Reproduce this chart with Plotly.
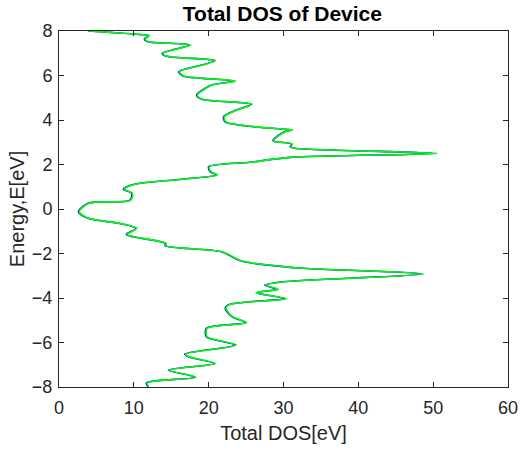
import plotly.graph_objects as go

# Energy grid (eV) and total density of states
energy = [8.0, 7.82, 7.79, 7.63, 7.52, 7.37, 7.0, 6.88, 6.67, 6.47, 6.17, 5.98,
          5.75, 5.57, 5.12, 4.93, 4.71, 4.45, 4.15, 3.92, 3.58, 3.55, 3.45, 3.07,
          2.92, 2.80, 2.73, 2.50, 2.32, 2.10, 1.90, 1.68, 1.53, 1.12, 0.89, 0.71,
          0.40, 0.26, -0.12, -0.42, -0.67, -0.87, -1.14, -1.25, -1.54, -1.65,
          -1.92, -2.34, -2.64, -2.92, -3.27, -3.42, -3.61, -3.76, -4.03, -4.17,
          -4.31, -4.46, -4.84, -5.11, -5.36, -5.74, -6.11, -6.52, -6.64, -6.94,
          -7.24, -7.56, -7.81, -7.99]

dos_a = [3.9, 11.5, 12.0, 11.4, 11.9, 17.5, 13.8, 14.2, 20.8, 19.1, 16.0, 16.6,
         23.5, 20.4, 18.4, 19.1, 25.7, 23.7, 22.0, 22.2, 30.2, 31.1, 30.0, 28.6,
         31.1, 30.9, 31.5, 50.0, 30.9, 25.5, 20.0, 20.2, 21.1, 10.2, 8.6, 9.7,
         9.5, 3.9, 2.6, 3.9, 8.4, 10.3, 9.0, 9.9, 14.2, 14.2,
         21.7, 24.4, 31.5, 48.5, 30.0, 27.5, 29.1, 26.4, 30.2, 25.5,
         22.6, 22.2, 23.1, 24.9, 19.7, 19.7, 23.5, 16.8, 17.3, 20.8,
         14.6, 18.2, 11.7, 11.9]

dos_b = [3.9, 11.6, 12.1, 11.5, 12.0, 17.6, 13.9, 14.3, 20.9, 19.2, 16.1, 16.7,
         23.6, 20.5, 18.5, 19.2, 25.8, 23.8, 22.1, 22.3, 30.3, 31.2, 30.1, 28.7,
         31.2, 31.0, 31.6, 50.6, 31.0, 25.6, 20.1, 20.3, 21.2, 10.3, 8.7, 9.8,
         9.6, 4.0, 2.7, 4.0, 8.5, 10.4, 9.1, 10.0, 14.3, 14.3,
         21.8, 24.5, 31.6, 48.7, 30.1, 27.6, 29.3, 26.3, 30.4, 25.6,
         22.7, 22.3, 23.2, 25.1, 19.8, 19.8, 23.7, 16.9, 17.4, 20.9,
         14.7, 18.3, 11.8, 12.0]

x_ticks = [0, 10, 20, 30, 40, 50, 60]
y_ticks = [-8, -6, -4, -2, 0, 2, 4, 6, 8]

FONT = "Liberation Sans, Arial"
INK = "#262626"

fig = go.Figure()
fig.add_trace(go.Scatter(x=dos_a, y=energy, mode="lines",
                         line=dict(color="#0000ff", width=1.6, shape="spline", smoothing=0.8),
                         showlegend=False))
fig.add_trace(go.Scatter(x=dos_b, y=energy, mode="lines",
                         line=dict(color="#00ff00", width=1.6, shape="spline", smoothing=0.8),
                         showlegend=False))

axis_style = dict(showline=True, linecolor=INK, linewidth=1, mirror="ticks",
                  ticks="inside", ticklen=5, tickcolor=INK, showgrid=False,
                  zeroline=False, automargin=False,
                  tickfont=dict(family=FONT, size=18, color=INK))

fig.update_layout(
    width=520, height=452,
    margin=dict(l=59, r=12, t=31, b=65, autoexpand=False),
    paper_bgcolor="white", plot_bgcolor="white",
    title=dict(text="<b>Total DOS of Device</b>", x=0.543, xanchor="center",
               yref="container", y=0.969, yanchor="middle",
               font=dict(family=FONT, size=21, color="black")),
    xaxis=dict(range=[0, 60], tickvals=x_ticks, ticklabelstandoff=4,
               title=dict(text="Total DOS[eV]", standoff=9,
                          font=dict(family=FONT, size=20, color=INK)),
               **axis_style),
    yaxis=dict(range=[-8, 8], tickvals=y_ticks, ticklabelstandoff=2,
               title=dict(text="Energy,E[eV]", standoff=1,
                          font=dict(family=FONT, size=20, color=INK)),
               **axis_style),
)

fig.write_html("out.html")
